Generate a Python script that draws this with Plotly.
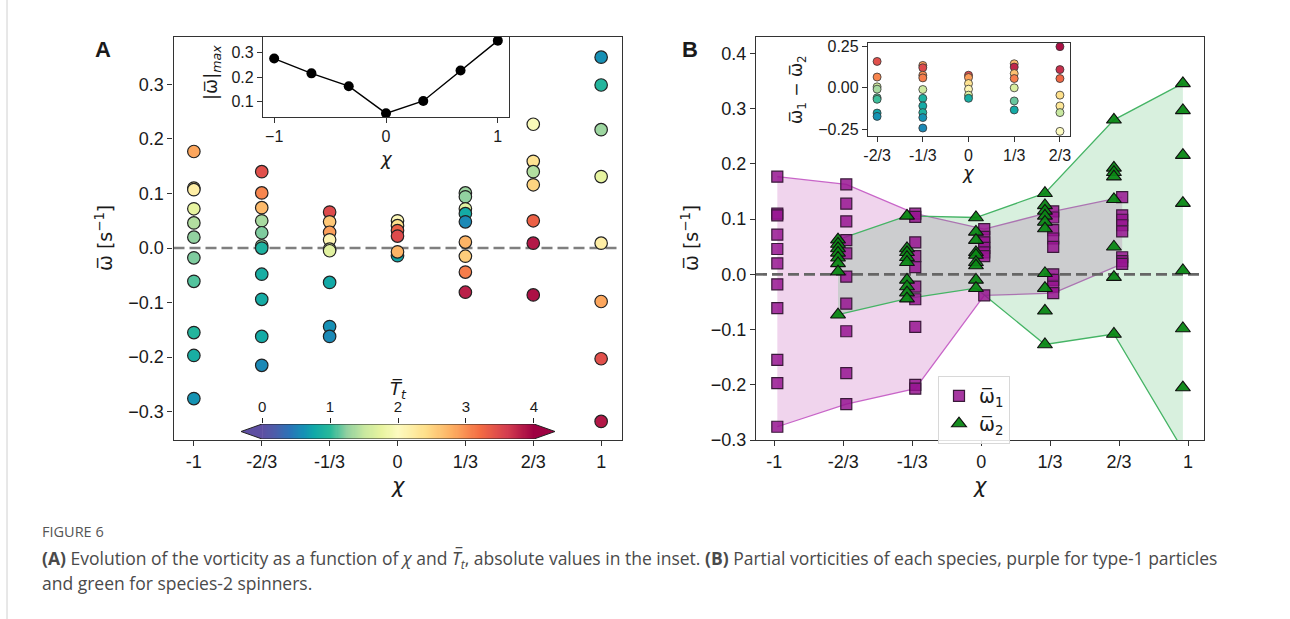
import numpy as np
import plotly.graph_objects as go

W, H = 1290, 619

# ---------------- data ----------------
chi_vals = [-1, -2/3, -1/3, 0, 1/3, 2/3, 1]
chi_labels = ["-1", "-2/3", "-1/3", "0", "1/3", "2/3", "1"]

# Panel A: total vorticity for each chi, coloured by T_t
omega_A = [
    [0.177, 0.110, 0.107, 0.072, 0.046, 0.020, -0.018, -0.061, -0.155, -0.197, -0.276],
    [0.140, 0.101, 0.074, 0.050, 0.028, 0.004, 0.000, -0.048, -0.094, -0.162, -0.215],
    [0.066, 0.048, 0.029, 0.015, -0.002, -0.005, -0.063, -0.144, -0.162],
    [0.050, 0.041, 0.032, 0.022, -0.014, -0.007],
    [0.101, 0.094, 0.072, 0.063, 0.048, 0.011, -0.015, -0.044, -0.081],
    [0.227, 0.159, 0.140, 0.116, 0.050, 0.009, -0.086],
    [0.350, 0.299, 0.217, 0.131, 0.009, -0.098, -0.203, -0.318],
]
T_A = [
    [2.85, 2.3, 2.2, 1.75, 1.4, 1.25, 1.2, 1.1, 0.95, 0.85, 0.62],
    [3.45, 3.05, 2.7, 1.35, 1.2, 1.3, 0.9, 0.85, 0.82, 0.8, 0.55],
    [3.5, 2.6, 2.9, 2.1, 1.9, 1.7, 0.78, 0.6, 0.55],
    [2.05, 2.4, 3.3, 3.5, 0.75, 2.75],
    [1.3, 1.25, 1.7, 0.8, 0.55, 2.75, 2.55, 3.1, 3.8],
    [1.95, 2.35, 1.4, 2.5, 3.3, 3.85, 3.9],
    [0.6, 0.95, 1.3, 1.75, 2.2, 2.85, 3.45, 3.85],
]

# Panel B: partial vorticities
chi_w1 = [-1, -2/3, -1/3, 0, 1/3, 2/3]
omega1 = [
    [0.177, 0.110, 0.107, 0.072, 0.046, 0.020, -0.018, -0.061, -0.155, -0.197, -0.276],
    [0.163, 0.128, 0.096, 0.062, 0.038, -0.004, -0.053, -0.103, -0.179, -0.235],
    [0.110, 0.104, 0.058, 0.033, 0.013, -0.022, -0.045, -0.095, -0.200, -0.207],
    [0.082, 0.068, 0.058, 0.048, 0.040, 0.033, -0.038],
    [0.114, 0.103, 0.080, 0.065, 0.050, 0.000, -0.010, -0.022, -0.034],
    [0.140, 0.107, 0.099, 0.089, 0.078, 0.031, 0.024, 0.019],
]
chi_w2 = [-2/3, -1/3, 0, 1/3, 2/3, 1]
omega2 = [
    [0.063, 0.055, 0.047, 0.039, 0.030, 0.020, 0.005, -0.073],
    [0.106, 0.047, 0.040, 0.031, 0.022, -0.010, -0.022, -0.033, -0.044],
    [0.103, 0.077, 0.062, 0.040, 0.035, 0.022, 0.016, -0.010, -0.025],
    [0.147, 0.125, 0.115, 0.106, 0.095, 0.083, 0.002, -0.025, -0.066, -0.127],
    [0.280, 0.193, 0.185, 0.177, 0.136, 0.050, -0.005, -0.108],
    [0.346, 0.297, 0.216, 0.129, 0.007, -0.098, -0.205, -0.318],
]

# Panel B inset: difference omega1 - omega2, coloured by T_t
chi_diff = [-2/3, -1/3, 0, 1/3, 2/3]
chi_diff_labels = ["-2/3", "-1/3", "0", "1/3", "2/3"]
diff_B = [
    [0.159, 0.065, 0.006, -0.008, -0.060, -0.069, -0.152, -0.172],
    [0.135, 0.121, 0.076, 0.060, -0.010, -0.063, -0.109, -0.149, -0.179, -0.242],
    [0.076, 0.062, 0.026, -0.008, -0.044, -0.063],
    [0.145, 0.125, 0.086, 0.056, 0.000, -0.079, -0.133],
    [0.248, 0.110, 0.056, -0.044, -0.109, -0.149, -0.262],
]
T_diff = [
    [3.45, 3.05, 1.6, 1.35, 1.15, 1.05, 0.75, 0.62],
    [2.9, 3.5, 3.0, 3.1, 1.55, 0.9, 0.8, 0.9, 0.62, 0.55],
    [3.5, 2.9, 2.35, 2.1, 1.7, 0.85],
    [2.7, 3.75, 2.65, 3.1, 1.65, 1.15, 0.8],
    [3.9, 3.7, 3.25, 2.4, 2.3, 1.5, 2.0],
]

T_MIN, T_MAX = 0, 4
cbar_ticks = [0, 1, 2, 3, 4]

# Spectral-like colour scale
cscale = [
    [0.00, "#5e4fa2"], [0.05, "#4a5fab"], [0.10, "#2a74b8"], [0.15, "#1690b5"],
    [0.19, "#10a8a8"], [0.25, "#28b99a"], [0.31, "#90d0a0"], [0.375, "#c8e8a0"],
    [0.44, "#e8f4a0"], [0.50, "#fdfbc0"], [0.60, "#fee08b"], [0.70, "#fdae61"],
    [0.80, "#f46d43"], [0.90, "#d53e4f"], [1.00, "#9e0142"],
]

# ---------------- geometry helpers ----------------
def dx(a, b):
    return [a / W, b / W]

def dy(top, bottom):
    return [1 - bottom / H, 1 - top / H]

def px(x):
    return x / W

def py(y):
    return 1 - y / H

FONT = "Liberation Sans, Arial, sans-serif"
MATH = "DejaVu Sans, Liberation Sans, sans-serif"
SPINE = "#333333"

def axis(**kw):
    d = dict(showline=True, mirror=True, linecolor=SPINE, linewidth=1.3,
             ticks="outside", ticklen=5, tickwidth=1.2, tickcolor=SPINE,
             showgrid=False, zeroline=False,
             tickfont=dict(family=FONT, size=18, color="#1a1a1a"))
    d.update(kw)
    return d

fig = go.Figure()

# ---------------- Panel A ----------------
A_xr = [-1.1, 1.1]
A_yr = [-0.352, 0.387]
fig.add_trace(go.Scatter(x=A_xr, y=[0, 0], mode="lines", xaxis="x", yaxis="y",
                         line=dict(color="#7f7f7f", width=2.6, dash="11px,5px"),
                         showlegend=False, hoverinfo="skip"))
ax_x, ax_y, ax_T = [], [], []
for c, vals, ts in zip(chi_vals, omega_A, T_A):
    for v, t in zip(vals, ts):
        ax_x.append(c); ax_y.append(v); ax_T.append(t)
fig.add_trace(go.Scatter(x=ax_x, y=ax_y, mode="markers", xaxis="x", yaxis="y",
                         marker=dict(color=ax_T, colorscale=cscale, cmin=T_MIN, cmax=T_MAX,
                                     size=12.5, line=dict(color="#222222", width=1.2)),
                         showlegend=False))

# inset A: max |omega| per chi
abs_max = [max(abs(v) for v in vals) for vals in omega_A]
fig.add_trace(go.Scatter(x=chi_vals, y=abs_max, mode="lines+markers", xaxis="x2", yaxis="y2",
                         line=dict(color="black", width=1.4),
                         marker=dict(color="black", size=10),
                         showlegend=False))

# colour bar drawn on its own axis
ext = 0.31
cb_vals = np.linspace(T_MIN, T_MAX, 256)
fig.add_trace(go.Heatmap(z=[cb_vals], x0=T_MIN + (T_MAX - T_MIN) / 512, dx=(T_MAX - T_MIN) / 256,
                         y0=0.5, dy=1, colorscale=cscale, zmin=T_MIN, zmax=T_MAX,
                         showscale=False, xaxis="x3", yaxis="y3", hoverinfo="skip"))
fig.add_trace(go.Scatter(x=[T_MIN, T_MIN - ext, T_MIN, T_MIN], y=[1, 0.5, 0, 1], fill="toself",
                         fillcolor=cscale[0][1], line=dict(width=0), mode="lines",
                         xaxis="x3", yaxis="y3", showlegend=False, hoverinfo="skip"))
fig.add_trace(go.Scatter(x=[T_MAX, T_MAX + ext, T_MAX, T_MAX], y=[1, 0.5, 0, 1], fill="toself",
                         fillcolor=cscale[-1][1], line=dict(width=0), mode="lines",
                         xaxis="x3", yaxis="y3", showlegend=False, hoverinfo="skip"))
fig.add_trace(go.Scatter(x=[T_MIN, T_MAX, T_MAX + ext, T_MAX, T_MIN, T_MIN - ext, T_MIN],
                         y=[1, 1, 0.5, 0, 0, 0.5, 1], mode="lines",
                         line=dict(color="#222222", width=1),
                         xaxis="x3", yaxis="y3", showlegend=False, hoverinfo="skip"))

# ---------------- Panel B ----------------
B_xr = [-1.088, 1.077]
B_yr = [-0.3, 0.43]
off1, off2 = 0.015, -0.025

x1 = [c + off1 for c in chi_w1]
up1 = [max(g) for g in omega1]
lo1 = [min(g) for g in omega1]
x2 = [c + off2 for c in chi_w2]
up2 = [max(g) for g in omega2]
lo2 = [min(g) for g in omega2]

PINK_LINE = "#c865c8"
GREEN_LINE = "#45b465"
fig.add_trace(go.Scatter(x=x1, y=lo1, mode="lines", line=dict(color=PINK_LINE, width=1.3),
                         xaxis="x4", yaxis="y4", showlegend=False, hoverinfo="skip"))
fig.add_trace(go.Scatter(x=x1, y=up1, mode="lines", line=dict(color=PINK_LINE, width=1.3),
                         fill="tonexty", fillcolor="rgba(185,60,175,0.22)",
                         xaxis="x4", yaxis="y4", showlegend=False, hoverinfo="skip"))
fig.add_trace(go.Scatter(x=x2, y=lo2, mode="lines", line=dict(color=GREEN_LINE, width=1.3),
                         xaxis="x4", yaxis="y4", showlegend=False, hoverinfo="skip"))
fig.add_trace(go.Scatter(x=x2, y=up2, mode="lines", line=dict(color=GREEN_LINE, width=1.3),
                         fill="tonexty", fillcolor="rgba(60,180,90,0.2)",
                         xaxis="x4", yaxis="y4", showlegend=False, hoverinfo="skip"))
fig.add_trace(go.Scatter(x=B_xr, y=[0, 0], mode="lines", xaxis="x4", yaxis="y4",
                         line=dict(color="#666666", width=2.6, dash="11px,5px"),
                         showlegend=False, hoverinfo="skip"))

sq_x, sq_y = [], []
for c, vals in zip(chi_w1, omega1):
    for v in vals:
        sq_x.append(c + off1); sq_y.append(v)
tr_x, tr_y = [], []
for c, vals in zip(chi_w2, omega2):
    for v in vals:
        tr_x.append(c + off2); tr_y.append(v)

fig.add_trace(go.Scatter(x=sq_x, y=sq_y, mode="markers", xaxis="x4", yaxis="y4",
                         name="ω\u0305<sub>1</sub>",
                         marker=dict(symbol="square", size=11, color="rgba(150,20,145,0.85)",
                                     line=dict(color="#3a1a3a", width=1.2))))
fig.add_trace(go.Scatter(x=tr_x, y=tr_y, mode="markers", xaxis="x4", yaxis="y4",
                         name="ω\u0305<sub>2</sub>",
                         marker=dict(symbol="triangle-up", size=13, color="rgba(10,135,20,0.95)",
                                     line=dict(color="#111111", width=1.1))))

# inset B
dx_x, dx_y, dx_T = [], [], []
for c, vals, ts in zip(chi_diff, diff_B, T_diff):
    for v, t in zip(vals, ts):
        dx_x.append(c); dx_y.append(v); dx_T.append(t)
fig.add_trace(go.Scatter(x=dx_x, y=dx_y, mode="markers", xaxis="x5", yaxis="y5",
                         marker=dict(color=dx_T, colorscale=cscale, cmin=T_MIN, cmax=T_MAX,
                                     size=8, line=dict(color="#333333", width=0.8)),
                         showlegend=False))

# ---------------- layout ----------------
small = dict(family=FONT, size=16, color="#1a1a1a")
fig.update_layout(
    width=W, height=H, margin=dict(l=0, r=0, t=0, b=0),
    template="none", paper_bgcolor="white", plot_bgcolor="white",
    xaxis=axis(domain=dx(173.5, 621.5), range=A_xr, tickvals=chi_vals, ticktext=chi_labels, anchor="y"),
    yaxis=axis(domain=dy(37, 440), range=A_yr, dtick=0.1, tick0=0, tickformat=".1f", anchor="x"),
    xaxis2=axis(domain=dx(263, 509), range=[-1.1, 1.1], tickvals=[-1, 0, 1], anchor="y2",
                tickfont=small),
    yaxis2=axis(domain=dy(37, 117), range=[0.035, 0.365], tickvals=[0.1, 0.2, 0.3],
                tickformat=".1f", anchor="x2", tickfont=small),
    xaxis3=dict(domain=dx(241, 555), range=[T_MIN - ext, T_MAX + ext], side="top",
                tickvals=cbar_ticks, ticks="outside", ticklen=5, tickwidth=1, tickcolor="#222",
                showline=False, showgrid=False, zeroline=False, anchor="y3",
                tickfont=dict(family=FONT, size=15, color="#1a1a1a")),
    yaxis3=dict(domain=dy(424, 439), range=[0, 1], visible=False, anchor="x3"),
    xaxis4=axis(domain=dx(756, 1204), range=B_xr, tickvals=chi_vals, ticktext=chi_labels, anchor="y4"),
    yaxis4=axis(domain=dy(37, 440), range=B_yr, dtick=0.1, tick0=0, tickformat=".1f", anchor="x4"),
    xaxis5=axis(domain=dx(868, 1070), range=[-0.733, 0.74], tickvals=chi_diff,
                ticktext=chi_diff_labels, anchor="y5", tickfont=small),
    yaxis5=axis(domain=dy(43, 136), range=[-0.29, 0.27], tickvals=[-0.25, 0, 0.25],
                tickformat=".2f", anchor="x5", tickfont=small),
    legend=dict(x=px(938), y=py(376), xanchor="left", yanchor="top", traceorder="normal",
                bgcolor="rgba(255,255,255,0.85)", bordercolor="#d8d8d8", borderwidth=1,
                font=dict(family=MATH, size=19, color="#1a1a1a"), itemwidth=30,
                tracegroupgap=2),
    showlegend=True,
)

def ann(text, x, y, size, angle=0, family=FONT, color="#1a1a1a", xanchor="center"):
    fig.add_annotation(text=text, x=px(x), y=py(y), xref="paper", yref="paper",
                       showarrow=False, textangle=angle, xanchor=xanchor, yanchor="middle",
                       font=dict(family=family, size=size, color=color))

# panel letters
ann("<b>A</b>", 103, 50, 22)
ann("<b>B</b>", 690, 50, 22)
# axis titles
ann("ω\u0305 [s<sup>−1</sup>]", 104, 238, 19, angle=-90, family=MATH)
ann("ω\u0305 [s<sup>−1</sup>]", 690, 238, 19, angle=-90, family=MATH)
ann("<i>χ</i>", 398, 486, 21, family=MATH)
ann("<i>χ</i>", 980, 486, 21, family=MATH)
ann("<i>χ</i>", 386, 158, 18, family=MATH)
ann("<i>χ</i>", 968, 173, 18, family=MATH)
ann("|ω\u0305|<sub><i>max</i></sub>", 212, 73, 18, angle=-90, family=MATH)
ann("ω\u0305<sub>1</sub> − ω\u0305<sub>2</sub>", 798, 90, 17, angle=-90, family=MATH)
ann("<i>T\u0305</i><sub><i>t</i></sub>", 398, 390, 18, family=MATH)

# caption
CAP = "Open Sans, Noto Sans, sans-serif"
ann("FIGURE 6", 40, 531, 14.5, family=CAP, color="#555555", xanchor="left")
ann("<b>(A)</b> Evolution of the vorticity as a function of <i>χ</i> and <i>T\u0305</i><sub><i>t</i></sub>, "
    "absolute values in the inset. <b>(B)</b> Partial vorticities of each species, purple for type-1 particles",
    40, 559, 17.5, family=CAP, color="#4a4a4a", xanchor="left")
ann("and green for species-2 spinners.", 40, 583, 17.5, family=CAP, color="#4a4a4a", xanchor="left")

# page frame line on the left
fig.add_shape(type="line", xref="paper", yref="paper", x0=px(7), x1=px(7), y0=0, y1=1,
              line=dict(color="#d0d0d0", width=1))

fig.write_html("out.html", config={"displayModeBar": False},
               post_script="document.body.style.margin='0';")
